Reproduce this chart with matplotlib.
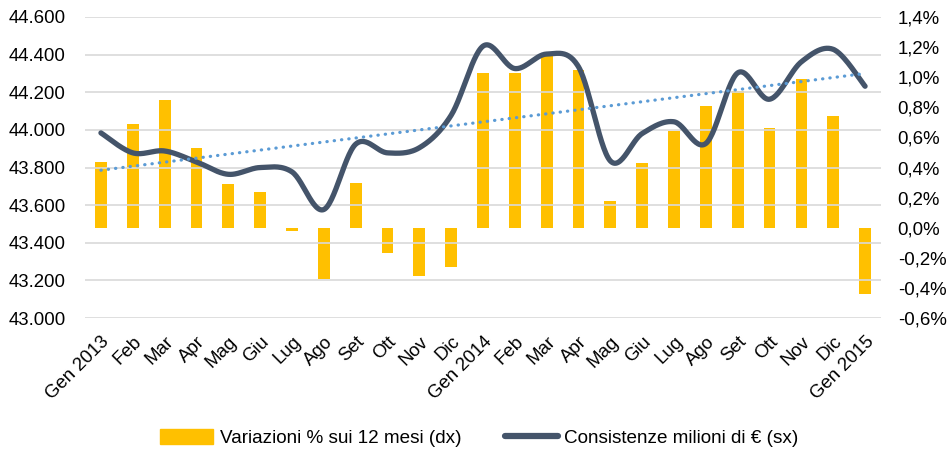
import numpy as np
import matplotlib.pyplot as plt
from matplotlib.patches import Patch
from matplotlib.lines import Line2D
from matplotlib.ticker import FuncFormatter

plt.rcParams['font.family'] = ['Liberation Sans', 'DejaVu Sans']

months = ['Gen 2013', 'Feb', 'Mar', 'Apr', 'Mag', 'Giu', 'Lug', 'Ago', 'Set', 'Ott', 'Nov', 'Dic',
          'Gen 2014', 'Feb', 'Mar', 'Apr', 'Mag', 'Giu', 'Lug', 'Ago', 'Set', 'Ott', 'Nov', 'Dic',
          'Gen 2015']

# variazioni % sui 12 mesi (asse dx)
var_pct = [0.44, 0.69, 0.85, 0.53, 0.29, 0.24, -0.02, -0.34, 0.30, -0.17, -0.32, -0.26,
           1.03, 1.03, 1.16, 1.05, 0.18, 0.43, 0.64, 0.81, 0.91, 0.66, 0.99, 0.74,
           -0.44]

# consistenze milioni di euro (asse sx)
consistenze = [43984, 43878, 43888, 43830, 43764, 43800, 43777, 43577, 43924, 43878, 43905, 44078,
               44445, 44326, 44403, 44335, 43835, 43981, 44043, 43928, 44303, 44163, 44362, 44428,
               44232]

YELLOW = '#FFC000'
DARK = '#44546A'
BLUE = '#5B9BD5'


def smooth(x, y, n=30):
    # curva stile Excel (Catmull-Rom)
    x = np.asarray(x, float)
    y = np.asarray(y, float)
    px = np.concatenate([[x[0]], x, [x[-1]]])
    py = np.concatenate([[y[0]], y, [y[-1]]])
    xs, ys = [], []
    t = np.linspace(0, 1, n)
    for i in range(1, len(px) - 2):
        p0x, p1x, p2x, p3x = px[i - 1:i + 3]
        p0y, p1y, p2y, p3y = py[i - 1:i + 3]
        c1x, c1y = p1x + (p2x - p0x) / 6, p1y + (p2y - p0y) / 6
        c2x, c2y = p2x - (p3x - p1x) / 6, p2y - (p3y - p1y) / 6
        bx = (1 - t) ** 3 * p1x + 3 * (1 - t) ** 2 * t * c1x + 3 * (1 - t) * t ** 2 * c2x + t ** 3 * p2x
        by = (1 - t) ** 3 * p1y + 3 * (1 - t) ** 2 * t * c1y + 3 * (1 - t) * t ** 2 * c2y + t ** 3 * p2y
        xs.append(bx)
        ys.append(by)
    return np.concatenate(xs), np.concatenate(ys)


x = np.arange(len(months))

fig = plt.figure(figsize=(9.51, 4.59), dpi=100)
ax = fig.add_axes([0.0894, 0.307, 0.837, 0.656])
ax2 = ax.twinx()

# assi: sx per la linea, dx per le barre
ax.set_zorder(ax2.get_zorder() + 1)
ax.patch.set_visible(False)

ax2.bar(x, var_pct, width=0.37, color=YELLOW, zorder=2)
ax2.set_ylim(-0.6, 1.4)
ax2.set_yticks(np.arange(-0.6, 1.41, 0.2))
ax2.yaxis.set_major_formatter(FuncFormatter(lambda v, p: f'{v:.1f}%'.replace('.', ',').replace('-0,0', '0,0')))

sx, sy = smooth(x, consistenze)
ax.plot(sx, sy, color=DARK, lw=3.8, solid_capstyle='round', zorder=3)

coef = np.polyfit(x, consistenze, 1)
ax.plot(x, np.polyval(coef, x), color=BLUE, lw=2.3, linestyle=(0, (0.1, 2.2)),
        dash_capstyle='round', zorder=4)

ax.set_ylim(43000, 44600)
ax.set_yticks(np.arange(43000, 44601, 200))
ax.yaxis.set_major_formatter(FuncFormatter(lambda v, p: f'{v:,.0f}'.replace(',', '.')))
ax.grid(axis='y', color='#D9D9D9', lw=1.2)
ax.set_axisbelow(True)
ax.set_xlim(-0.5, len(months) - 0.5)
ax.set_xticks(x)
ax.set_xticklabels(months, rotation=45, ha='right', rotation_mode='anchor')

for a in (ax, ax2):
    for s in a.spines.values():
        s.set_visible(False)
    a.tick_params(length=0, labelsize=13.4, colors='black')
ax.tick_params(axis='y', pad=14)
ax2.tick_params(axis='y', pad=12)
ax.tick_params(axis='x', pad=11)

handles = [Patch(color=YELLOW), Line2D([0], [0], color=DARK, lw=4.5, solid_capstyle='round')]
labels = ['Variazioni % sui 12 mesi (dx)', 'Consistenze milioni di € (sx)']
fig.legend(handles, labels, loc='center', bbox_to_anchor=(0.504, 0.045), ncol=2, frameon=False,
           fontsize=13.6, handlelength=2.8, handleheight=0.85, handletextpad=0.35, columnspacing=2.3)

fig.savefig('out.png', dpi=100)
